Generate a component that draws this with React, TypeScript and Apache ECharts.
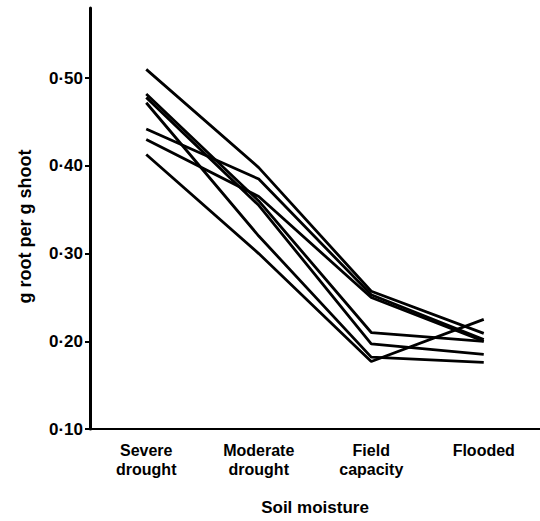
import React, { useEffect, useRef } from "react";
import * as echarts from "echarts";

const categories = ["Severe\ndrought", "Moderate\ndrought", "Field\ncapacity", "Flooded"];
const yTicks = [0.1, 0.2, 0.3, 0.4, 0.5];
const plant1 = [0.51, 0.398, 0.257, 0.209];
const plant2 = [0.442, 0.385, 0.253, 0.202];
const plant3 = [0.43, 0.365, 0.25, 0.2];
const plant4 = [0.482, 0.36, 0.21, 0.2];
const plant5 = [0.478, 0.355, 0.197, 0.185];
const plant6 = [0.472, 0.32, 0.182, 0.176];
const plant7 = [0.413, 0.3, 0.177, 0.225];
const allSeries = [plant1, plant2, plant3, plant4, plant5, plant6, plant7];

export default function App() {
  const ref = useRef<HTMLDivElement>(null);
  useEffect(() => {
    document.body.style.margin = "0";
    if (!ref.current) return;
    const chart = echarts.init(ref.current, null, { renderer: "svg" });
    const font = "Liberation Sans";
    chart.setOption({
      animation: false,
      backgroundColor: "#ffffff",
      grid: { left: 90, top: 8, bottom: 91, width: 460 },
      xAxis: {
        type: "category",
        data: categories,
        boundaryGap: true,
        name: "Soil moisture",
        nameLocation: "middle",
        nameGap: 70,
        nameTextStyle: { fontFamily: font, fontSize: 17, color: "#000", fontWeight: "bold" },
        axisLine: { lineStyle: { color: "#000", width: 2 } },
        axisTick: { alignWithLabel: true, length: 5, lineStyle: { color: "#000", width: 2 } },
        axisLabel: {
          fontFamily: font,
          fontSize: 16,
          color: "#000",
          fontWeight: "bold",
          margin: 12,
          lineHeight: 19,
        },
      },
      yAxis: {
        type: "value",
        min: 0.1,
        max: 0.58,
        interval: 0.1,
        name: "g root per g shoot",
        nameLocation: "middle",
        nameGap: 56,
        nameTextStyle: {
          fontFamily: font,
          fontSize: 18,
          color: "#000",
          fontWeight: "bold",
          padding: [0, 16, 0, 0],
        },
        splitLine: { show: false },
        axisLine: { show: true, lineStyle: { color: "#000", width: 3 } },
        axisTick: { show: true, length: 5, lineStyle: { color: "#000", width: 2 } },
        axisLabel: {
          fontFamily: font,
          fontSize: 17,
          fontWeight: "bold",
          color: "#000",
          margin: 7,
          showMaxLabel: false,
          formatter: (v: number) =>
            yTicks.some((t) => Math.abs(t - v) < 1e-6) ? v.toFixed(2).replace(".", "·") : "",
        },
      },
      series: allSeries.map((d, i) => ({
        type: "line",
        name: "plant" + (i + 1),
        data: d,
        symbol: "none",
        lineStyle: { color: "#000", width: 2.8 },
      })),
    });
    return () => chart.dispose();
  }, []);
  return <div ref={ref} style={{ width: 540, height: 521 }} />;
}
